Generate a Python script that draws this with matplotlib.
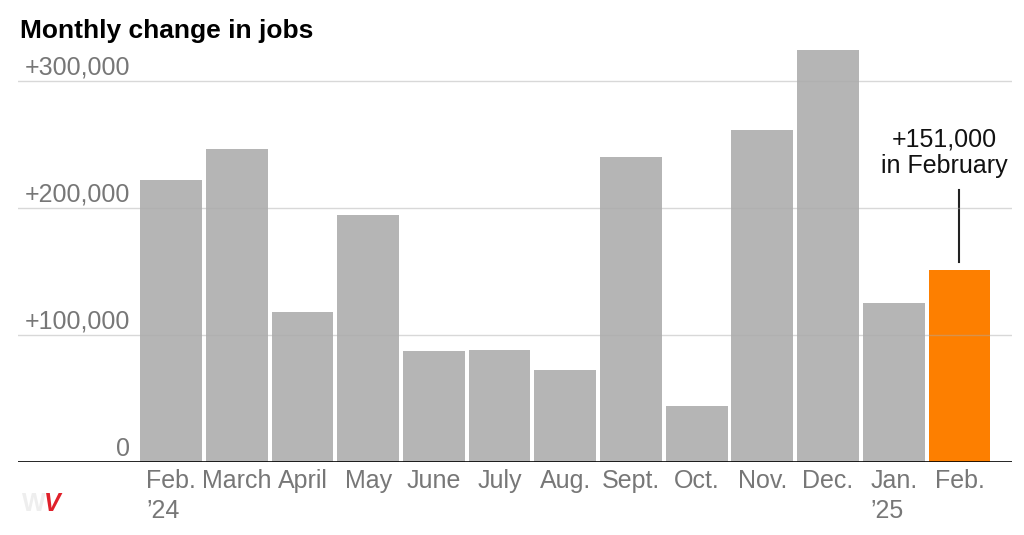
import numpy as np
import matplotlib
matplotlib.use('Agg')
import matplotlib.pyplot as plt

# =============================================
# Data
# =============================================

months = ["Feb.\n\u201924", "March", "April", "May", "June", "July", "Aug.",
          "Sept.", "Oct.", "Nov.", "Dec.", "Jan.\n\u201925", "Feb."]
jobs = [222000, 246000, 118000, 194000, 87000, 88000, 72000,
        240000, 44000, 261000, 324000, 125000, 151000]
yticks = [0, 100000, 200000, 300000]
ytick_labels = ["0", "+100,000", "+200,000", "+300,000"]

plt.rcParams['font.family'] = ['Liberation Sans', 'DejaVu Sans']

GREY = '#b5b5b5'
ORANGE = '#fd7f00'
TXT = '#777777'

# =============================================
# Plot
# =============================================

fig = plt.figure(figsize=(10.24, 5.35), dpi=100)
ax = fig.add_axes([18/1024, (535-462)/535, 994/1024, (462-36)/535])

x = np.arange(len(jobs))
cols = [GREY]*(len(jobs)-1) + [ORANGE]
ax.bar(x, jobs, width=0.94, color=cols, zorder=1)

ax.set_xlim(-2.33, 12.80)
ax.set_ylim(0, 335000)

for yt, lab in zip(yticks, ytick_labels):
    if yt > 0:
        ax.axhline(yt, color='#aaaaaa', lw=1, alpha=0.45, zorder=3)
    ax.text(-0.5 - 0.12, yt + 5000, lab, ha='right', va='baseline',
            fontsize=18, color=TXT)
ax.axhline(0, color='black', lw=1.2, zorder=4)

for xi, lab in zip(x, months):
    ax.text(xi, -5500, lab, ha='center', va='top', fontsize=18,
            color=TXT, linespacing=1.3, multialignment='left')

# annotation for last bar
last = len(jobs) - 1
ax.text(last - 0.23, 248000, "+%s" % format(jobs[last], ','),
        ha='center', va='baseline', fontsize=18, color='#111111')
ax.text(last - 0.23, 227000, "in February",
        ha='center', va='baseline', fontsize=18, color='#111111')
ax.plot([last, last], [jobs[last] + 6000, 214000], color='#222222', lw=1.5)

for s in ax.spines.values():
    s.set_visible(False)
ax.set_xticks([])
ax.set_yticks([])

fig.text(20/1024, 1 - 38/535, "Monthly change in jobs", fontsize=19,
         fontweight='bold', color='black', ha='left', va='baseline')

# logo mark
fig.text(22/1024, 1 - 511/535, "W", fontsize=18, fontweight='bold',
         color='#eeeeee', ha='left', va='baseline')
fig.text(44/1024, 1 - 511/535, "V", fontsize=18, fontweight='bold',
         style='italic', color='#e0202a', ha='left', va='baseline')

fig.savefig('out.png', dpi=100)
